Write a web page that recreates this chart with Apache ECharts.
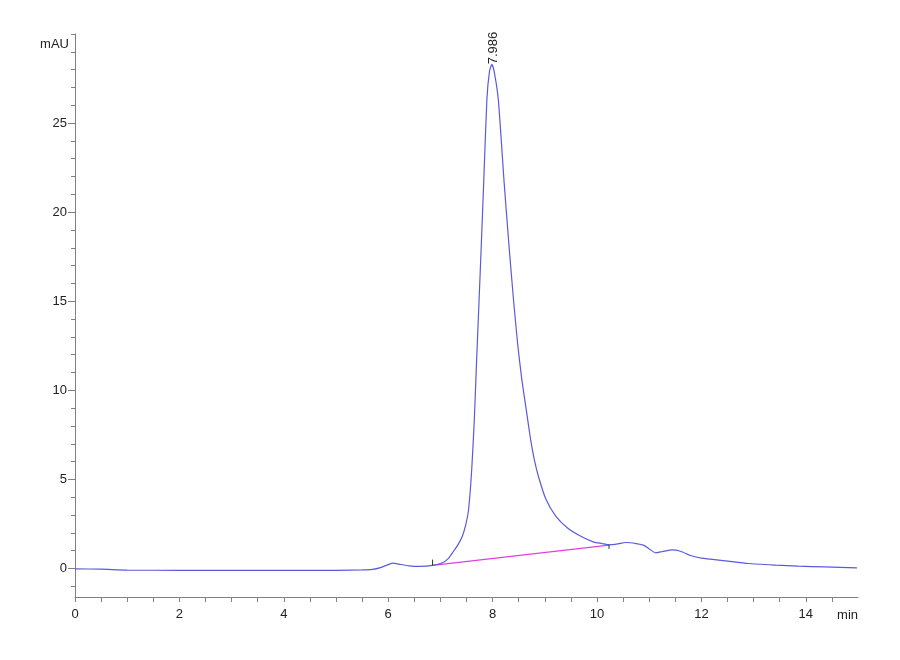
<!DOCTYPE html>
<html>
<head>
<meta charset="utf-8">
<script src="https://cdn.jsdelivr.net/npm/echarts@6/dist/echarts.min.js"></script>
<style>
  html, body { margin: 0; padding: 0; background: #fff; }
  #chart { width: 900px; height: 660px; }
</style>
</head>
<body>
<div id="chart"></div>
<script>
// retention time (min) / absorbance (mAU)
var times = [0, 0.5, 1.0, 2.0, 3.0, 4.0, 5.0, 5.5, 5.7, 5.85, 6.0, 6.1, 6.2, 6.4, 6.6,
  6.85, 7.04, 7.15, 7.23, 7.33, 7.42, 7.49, 7.54, 7.60, 7.65, 7.69, 7.74, 7.78, 7.83, 7.89, 7.94,
  7.986, 8.03, 8.11, 8.22, 8.32, 8.40, 8.48, 8.56, 8.64, 8.73, 8.80, 8.88, 9.02, 9.21, 9.43, 9.69, 9.94, 10.1, 10.23,
  10.4, 10.55, 10.75, 10.9, 11.0, 11.12, 11.25, 11.44, 11.6, 11.79, 12.0, 12.46, 12.9,
  13.42, 13.86, 14.37, 14.98];
var signal = [-0.02, -0.04, -0.09, -0.1, -0.11, -0.11, -0.1, -0.08, -0.05, 0.05, 0.22, 0.30, 0.25, 0.15, 0.12,
  0.17, 0.32, 0.55, 0.88, 1.3, 1.81, 2.5, 3.31, 5.56, 8.37, 11.4, 15.0, 17.9, 21.7, 26.3, 27.9,
  28.3, 27.9, 26.3, 21.7, 17.9, 15.1, 12.6, 10.6, 9.0, 7.2, 6.1, 5.15, 3.9, 2.94, 2.29, 1.81, 1.48, 1.40, 1.33,
  1.38, 1.46, 1.4, 1.3, 1.1, 0.88, 0.95, 1.05, 0.97, 0.73, 0.58, 0.43, 0.28,
  0.19, 0.13, 0.09, 0.04];

// integration baseline and peak marks
var baseTimes = [6.85, 10.23];
var baseValues = [0.17, 1.31];
var startTick = [0.17, 0.5];
var endTick = [1.35, 1.1];
var peakTime = 7.986;
var peakHeight = 28.3;

var xLabels = [0, 2, 4, 6, 8, 10, 12, 14];
var xTicks = [];
for (var t = 0; t <= 14.5; t += 0.5) xTicks.push(t);
var yLabels = [0, 5, 10, 15, 20, 25];
var yTicks = [];
for (var v = -1; v <= 30; v++) yTicks.push(v);

var font = 'Liberation Sans, Arial, sans-serif';
var axisGray = '#808080';

var trace = times.map(function (t, i) { return [t, signal[i]]; });
var baseline = baseTimes.map(function (t, i) { return [t, baseValues[i]]; });

var option = {
  animation: false,
  grid: { left: 75, right: 42, top: 34, bottom: 63 },
  xAxis: {
    type: 'value',
    min: 0,
    max: 15,
    name: 'min',
    nameLocation: 'end',
    nameGap: 0,
    nameTextStyle: { fontFamily: font, fontSize: 13, color: '#222', align: 'right',
      verticalAlign: 'top', padding: [12, 0, 0, 0] },
    axisLine: { onZero: false, lineStyle: { color: axisGray, width: 1 } },
    axisTick: { show: true, length: 5, customValues: xTicks, lineStyle: { color: axisGray } },
    axisLabel: { customValues: xLabels, fontFamily: font, fontSize: 13, color: '#222', margin: 11 },
    splitLine: { show: false }
  },
  yAxis: [{
    type: 'value',
    min: -1.6,
    max: 30,
    name: 'mAU',
    nameLocation: 'end',
    nameGap: -17,
    nameTextStyle: { fontFamily: font, fontSize: 13, color: '#222', align: 'right',
      padding: [0, 6, 0, 0] },
    axisLine: { show: true, onZero: false, lineStyle: { color: axisGray, width: 1 } },
    axisTick: { show: true, length: 4, customValues: yTicks, lineStyle: { color: axisGray } },
    axisLabel: { show: false },
    splitLine: { show: false }
  }, {
    type: 'value',
    position: 'left',
    min: -1.6,
    max: 30,
    axisLine: { show: false },
    axisTick: { show: true, length: 7, customValues: yLabels, lineStyle: { color: axisGray } },
    axisLabel: { customValues: yLabels, fontFamily: font, fontSize: 13, color: '#222', margin: 8 },
    splitLine: { show: false }
  }],
  series: [{
    type: 'line',
    data: trace,
    showSymbol: false,
    smooth: 0.2,
    lineStyle: { color: '#5a5ae0', width: 1.2 },
    markPoint: {
      symbol: 'circle',
      symbolSize: 0,
      data: [{ coord: [peakTime, peakHeight], value: peakTime }],
      label: {
        show: true,
        formatter: String(peakTime),
        position: 'inside',
        rotate: 90,
        align: 'left',
        verticalAlign: 'middle',
        offset: [0, 2],
        fontFamily: font,
        fontSize: 13,
        color: '#222'
      }
    },
    z: 3
  }, {
    type: 'line',
    data: baseline,
    showSymbol: false,
    lineStyle: { color: '#e040e0', width: 1.2 },
    z: 2
  }, {
    type: 'line',
    data: [[baseTimes[0], startTick[0]], [baseTimes[0], startTick[1]]],
    showSymbol: false,
    lineStyle: { color: '#333', width: 1 },
    z: 4
  }, {
    type: 'line',
    data: [[baseTimes[1], endTick[0]], [baseTimes[1], endTick[1]]],
    showSymbol: false,
    lineStyle: { color: '#333', width: 1 },
    z: 4
  }]
};

var chart = echarts.init(document.getElementById('chart'));
chart.setOption(option);
</script>
</body>
</html>
